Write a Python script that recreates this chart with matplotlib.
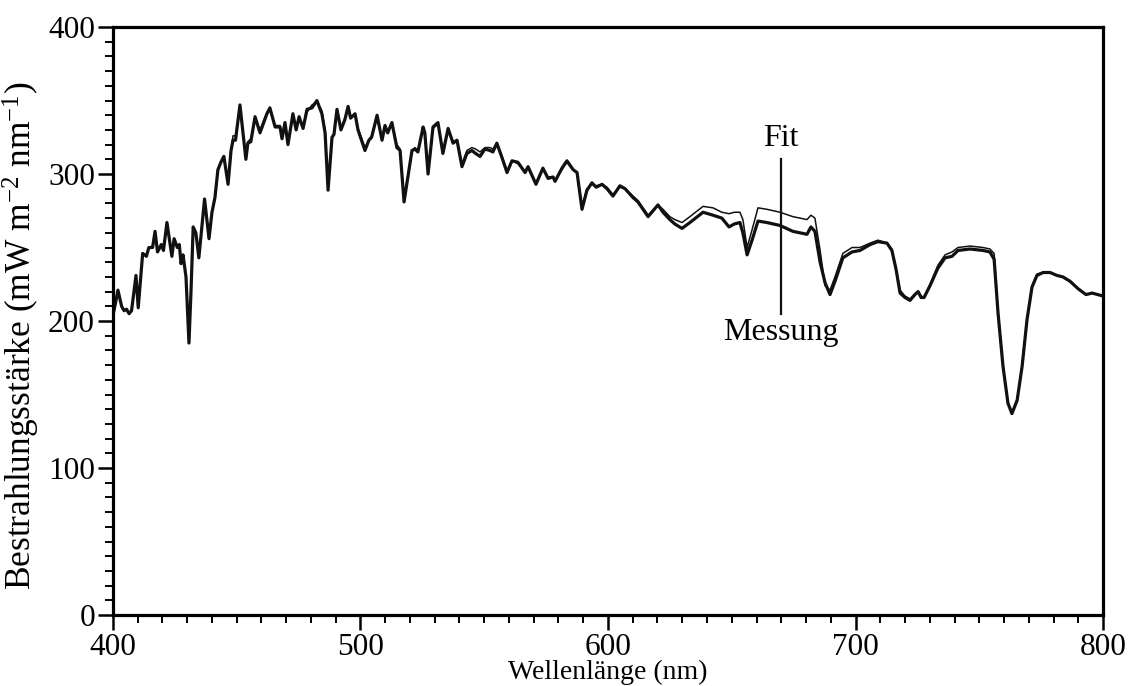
import matplotlib
matplotlib.use("Agg")
import matplotlib.pyplot as plt
from matplotlib.ticker import MultipleLocator

plt.rcParams["font.family"] = ["Liberation Serif", "DejaVu Serif"]
plt.rcParams["mathtext.default"] = "regular"

# Spektrum: Wellenlaenge (nm), gemessene und gefittete Bestrahlungsstaerke (mW m-2 nm-1)
wellenlaenge = [
    400, 401, 402, 403.5, 404.5, 405.5, 406.5, 407.5, 409.3, 410.2,
    412, 413.5, 414.5, 416, 417, 418, 419.5, 420.4, 421.8, 423.8,
    424.7, 426, 426.8, 427.5, 428.3, 429.5, 430.7, 431.5, 432.4, 433.5,
    434.7, 437, 438.8, 440, 441.2, 442.4, 443.6, 444.8, 446.5, 447.7,
    448.5, 449.5, 451.3, 453.7, 454.5, 455.7, 457.4, 459.4, 462.2, 463.4,
    465.5, 467.5, 468.3, 469.5, 470.7, 472.7, 474, 475.2, 476.8, 478.4,
    480.4, 482.4, 484.4, 485.7, 486.9, 488.5, 489.3, 490.5, 492.1, 493.7,
    495, 496, 497.8, 499, 501.8, 503.4, 504.5, 506.7, 508.7, 509.9,
    511, 512.7, 514.7, 516, 517.6, 520.8, 522, 523.2, 525.3, 526,
    527.3, 529.3, 531.3, 533.3, 535.4, 537.4, 539, 541, 543, 545,
    546.5, 548.3, 550.3, 552.3, 553.5, 555.1, 557.2, 559.2, 561.2, 563.6,
    566.5, 567.7, 570.9, 573.7, 575.8, 577.8, 578.6, 581.4, 583.4, 585.9,
    587.5, 589.5, 591.5, 593.5, 595.2, 597.6, 599.6, 602, 604.8, 606.9,
    610.1, 612.1, 616.2, 620.2, 622.2, 625, 627, 629.9, 633.1, 638.4,
    642.4, 646, 648.9, 651, 653.3, 654.5, 656.2, 658.2, 660.6, 664.2,
    669.5, 674.7, 680.4, 682, 683.6, 685.7, 687.7, 689.7, 691.7, 694.9,
    698.6, 701.8, 705.9, 709.1, 712.7, 714.7, 716.4, 718, 720, 722,
    724, 725.3, 726.5, 727.7, 730.1, 733.3, 736.2, 739, 741.4, 746.3,
    751.5, 754.3, 756, 757.6, 759.6, 761.6, 763.2, 765.3, 767.3, 769.3,
    771.3, 773.3, 775.8, 778.6, 781.4, 783.8, 786.7, 789.9, 793.1, 795.6,
    800,
]

messung = [
    204, 212, 221, 210, 207, 208, 205, 207, 231, 209,
    246, 244, 250, 250, 261, 247, 252, 248, 267, 244,
    256, 250, 252, 239, 245, 230, 185, 219, 264, 260,
    243, 283, 256, 274, 284, 303, 308, 312, 293, 316,
    323, 323, 347, 310, 321, 322, 339, 328, 341, 345,
    332, 332, 324, 335, 320, 341, 330, 339, 331, 344,
    345, 350, 341, 328, 289, 325, 327, 344, 330, 337,
    346, 338, 341, 330, 316, 323, 325, 340, 323, 333,
    328, 335, 318, 316, 281, 316, 317, 315, 332, 328,
    300, 332, 335, 314, 331, 321, 323, 305, 314, 316,
    314, 312, 317, 316, 315, 321, 311, 301, 309, 308,
    301, 305, 293, 304, 297, 298, 295, 304, 309, 303,
    301, 276, 289, 294, 291, 293, 290, 285, 292, 290,
    284, 281, 271, 279, 274, 269, 266, 263, 267, 274,
    272, 270, 264, 266, 267, 260, 245, 255, 268, 267,
    265, 261, 259, 264, 261, 240, 226, 218, 227, 243,
    247, 248, 252, 254, 253, 248, 235, 219, 216, 214,
    218, 220, 216, 216, 224, 236, 243, 244, 248, 249,
    248, 247, 242, 205, 169, 144, 137, 146, 169, 201,
    223, 231, 233, 233, 231, 230, 227, 222, 218, 219,
    217,
]

fit = [
    204, 212, 221, 210, 207, 208, 205, 207, 230, 210,
    246, 245, 250, 251, 260, 248, 252, 249, 266, 245,
    256, 251, 252, 240, 245, 231, 188, 220, 263, 260,
    244, 282, 257, 274, 284, 302, 308, 311, 295, 316,
    326, 326, 345, 312, 322, 324, 338, 330, 342, 344,
    333, 333, 326, 334, 322, 340, 331, 338, 332, 342,
    347, 349, 343, 330, 292, 324, 328, 342, 331, 338,
    344, 339, 340, 331, 318, 323, 326, 338, 324, 332,
    329, 334, 320, 317, 284, 315, 318, 316, 331, 329,
    302, 331, 334, 316, 330, 322, 323, 307, 316, 318,
    317, 315, 318, 318, 317, 321, 312, 302, 309, 307,
    302, 304, 294, 303, 298, 298, 296, 303, 308, 303,
    301, 278, 290, 293, 292, 293, 291, 286, 291, 290,
    285, 282, 272, 279, 276, 271, 269, 267, 271, 278,
    277, 274, 273, 274, 274, 269, 250, 262, 277, 276,
    274, 271, 269, 272, 270, 248, 224, 221, 230, 246,
    250, 250, 253, 255, 253, 249, 236, 221, 217, 215,
    218, 220, 217, 216, 225, 238, 245, 247, 250, 251,
    250, 249, 246, 207, 170, 144, 138, 147, 170, 202,
    224, 232, 233, 233, 231, 230, 227, 222, 218, 219,
    217,
]

fig = plt.figure(figsize=(11.32, 6.86), dpi=100)
ax = fig.add_axes([0.0998, 0.1035, 0.8746, 0.8571])

ax.plot(wellenlaenge, messung, color="#111111", lw=2.3, solid_joinstyle="round")
ax.plot(wellenlaenge, fit, color="#111111", lw=1.1, solid_joinstyle="round")

# Zuordnungsstrich fuer die beiden Kurven
ax.plot([670, 670], [205, 310], color="#111111", lw=1.6)
ax.text(670, 324.5, "Fit", ha="center", va="center", fontsize=23)
ax.text(670, 192.5, "Messung", ha="center", va="center", fontsize=23)

ax.set_xlim(400, 800)
ax.set_ylim(0, 400)
ax.xaxis.set_major_locator(MultipleLocator(100))
ax.xaxis.set_minor_locator(MultipleLocator(10))
ax.yaxis.set_major_locator(MultipleLocator(100))
ax.yaxis.set_minor_locator(MultipleLocator(10))

for side in ["left", "right", "top", "bottom"]:
    ax.spines[side].set_linewidth(2.3)
ax.tick_params(which="major", direction="out", length=11, width=1.8,
               labelsize=22.5, pad=2, top=False, right=False)
ax.tick_params(which="minor", direction="out", length=6, width=1.4,
               top=False, right=False)

ax.set_xlabel("Wellenlänge (nm)", fontsize=20)
ax.xaxis.set_label_coords(0.5, -0.097)
ax.xaxis.label.set_va("center")
ax.set_ylabel("Bestrahlungsstärke (mW m$^{-2}$ nm$^{-1}$)", fontsize=25.5)
ax.yaxis.set_label_coords(-0.092, 0.4745)
ax.yaxis.label.set_va("center")

fig.savefig("out.png", dpi=100)
